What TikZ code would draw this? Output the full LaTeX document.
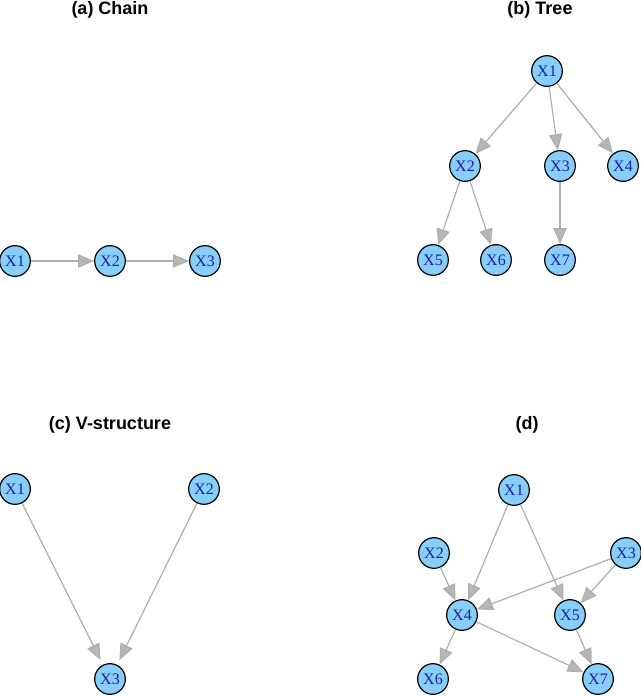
\documentclass[tikz,border=0pt]{standalone}
\usepackage{fontspec}
\setmainfont{Liberation Serif}
\newfontfamily\titlefont{Liberation Sans}
\usetikzlibrary{arrows.meta}
\definecolor{vfill}{HTML}{87CEFA}
\definecolor{vtext}{HTML}{1C1CA8}
\definecolor{edgegray}{HTML}{AEAEAE}

\begin{document}
\begin{tikzpicture}[x=0.75pt,y=-0.75pt,
    vert/.style={circle,draw=black,line width=0.9pt,fill=vfill,minimum size=23pt,inner sep=0pt,
        text=vtext,font=\fontsize{12}{14}\selectfont},
    edge/.style={draw=edgegray,line width=0.9pt,
        -{Triangle[length=12pt,width=10pt,fill=edgegray!90]}},
    ttl/.style={font=\titlefont\bfseries\fontsize{13.5}{15}\selectfont}]
    \useasboundingbox (0,0) rectangle (640,696);

    \node[ttl] (ta) at (110,10) {(a) Chain};
    \node[vert] (a1) at (15,261) {X1};
    \node[vert] (a2) at (110,261) {X2};
    \node[vert] (a3) at (205,261) {X3};
    \draw[edge] (a1) -- (a2);
    \draw[edge] (a2) -- (a3);

    \node[ttl] (tb) at (540,10) {(b) Tree};
    \node[vert] (b1) at (547,71) {X1};
    \node[vert] (b2) at (465,166) {X2};
    \node[vert] (b3) at (560,166) {X3};
    \node[vert] (b4) at (623,166) {X4};
    \node[vert] (b5) at (433,260) {X5};
    \node[vert] (b6) at (496,260) {X6};
    \node[vert] (b7) at (560,260) {X7};
    \draw[edge] (b1) -- (b2);
    \draw[edge] (b1) -- (b3);
    \draw[edge] (b1) -- (b4);
    \draw[edge] (b2) -- (b5);
    \draw[edge] (b2) -- (b6);
    \draw[edge] (b3) -- (b7);

    \node[ttl] (tc) at (110,425) {(c) V-structure};
    \node[vert] (c1) at (15,489) {X1};
    \node[vert] (c2) at (204,489) {X2};
    \node[vert] (c3) at (110,679) {X3};
    \draw[edge,shorten >=4pt] (c1) -- (c3);
    \draw[edge,shorten >=4pt] (c2) -- (c3);

    \node[ttl] (td) at (527,425) {(d)};
    \node[vert] (d1) at (514,490) {X1};
    \node[vert] (d2) at (434,553) {X2};
    \node[vert] (d3) at (626,553) {X3};
    \node[vert] (d4) at (462,615) {X4};
    \node[vert] (d5) at (570,615) {X5};
    \node[vert] (d6) at (433,679) {X6};
    \node[vert] (d7) at (598,679) {X7};
    \draw[edge] (d1) -- (d4);
    \draw[edge] (d1) -- (d5);
    \draw[edge] (d2) -- (d4);
    \draw[edge] (d3) -- (d4);
    \draw[edge] (d3) -- (d5);
    \draw[edge] (d4) -- (d6);
    \draw[edge] (d4) -- (d7);
    \draw[edge] (d5) -- (d7);
\end{tikzpicture}
\end{document}
